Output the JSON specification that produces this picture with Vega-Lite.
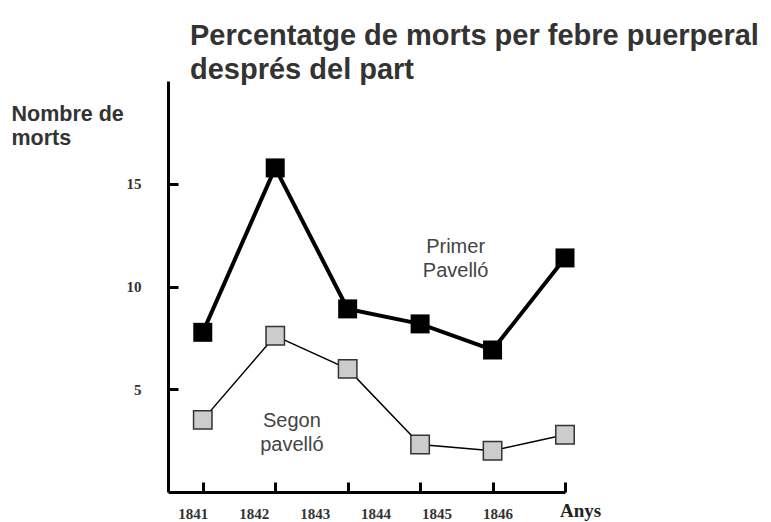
{
  "$schema": "https://vega.github.io/schema/vega-lite/v6.json",
  "autosize": "none",
  "width": 397,
  "height": 411,
  "padding": {"left": 168, "top": 81, "right": 206, "bottom": 30},
  "background": "white",
  "config": {"view": {"stroke": null}},
  "title": {
    "text": ["Percentatge de morts per febre puerperal", "després del part"],
    "anchor": "start",
    "frame": "group",
    "font": "Liberation Sans",
    "fontSize": 29,
    "fontWeight": "bold",
    "color": "#333333",
    "lineHeight": 34,
    "dx": 22,
    "offset": -4
  },
  "datasets": {
    "series": [
      {"serie": "Primer Pavelló", "any": 1841, "morts": 7.77},
      {"serie": "Primer Pavelló", "any": 1842, "morts": 15.77},
      {"serie": "Primer Pavelló", "any": 1843, "morts": 8.91},
      {"serie": "Primer Pavelló", "any": 1844, "morts": 8.18},
      {"serie": "Primer Pavelló", "any": 1845, "morts": 6.91},
      {"serie": "Primer Pavelló", "any": 1846, "morts": 11.39},
      {"serie": "Segon pavelló", "any": 1841, "morts": 3.51},
      {"serie": "Segon pavelló", "any": 1842, "morts": 7.6},
      {"serie": "Segon pavelló", "any": 1843, "morts": 5.99},
      {"serie": "Segon pavelló", "any": 1844, "morts": 2.31},
      {"serie": "Segon pavelló", "any": 1845, "morts": 2.01},
      {"serie": "Segon pavelló", "any": 1846, "morts": 2.79}
    ],
    "notes": [
      {"note": "Primer\nPavelló", "any": 1844.49, "morts": 11.63},
      {"note": "Segon\npavelló", "any": 1842.23, "morts": 3.15}
    ]
  },
  "encoding": {
    "x": {
      "field": "any",
      "type": "quantitative",
      "scale": {"domain": [1840.52, 1846], "nice": false, "zero": false},
      "axis": {
        "values": [1841, 1842, 1843, 1844, 1845, 1846],
        "format": "d",
        "grid": false,
        "domainColor": "black",
        "domainWidth": 3,
        "tickColor": "black",
        "tickWidth": 3,
        "tickSize": -10,
        "labelFont": "Liberation Serif",
        "labelFontWeight": "bold",
        "labelFontSize": 15,
        "labelColor": "#333333",
        "labelBaseline": "top",
        "labelPadding": 24,
        "labelOffset": {"expr": "-10 - 11.5 * (datum.value - 1841)"},
        "labelFlush": false,
        "labelOverlap": false,
        "title": "Anys",
        "titleFont": "Liberation Serif",
        "titleFontWeight": "bold",
        "titleFontSize": 19,
        "titleColor": "#222222",
        "titleAlign": "center",
        "titleBaseline": "alphabetic",
        "titleX": 412,
        "titleY": 24
      }
    },
    "y": {
      "field": "morts",
      "type": "quantitative",
      "scale": {"domain": [0, 20], "nice": false},
      "axis": {
        "values": [5, 10, 15],
        "grid": false,
        "domainColor": "black",
        "domainWidth": 3,
        "tickColor": "black",
        "tickWidth": 3,
        "tickSize": -10,
        "labelFont": "Liberation Serif",
        "labelFontWeight": "bold",
        "labelFontSize": 15,
        "labelColor": "#333333",
        "labelPadding": 37,
        "labelBaseline": "middle",
        "title": ["Nombre de", "morts"],
        "titleFont": "Liberation Sans",
        "titleFontWeight": "bold",
        "titleFontSize": 21.5,
        "titleColor": "#333333",
        "titleAngle": 0,
        "titleAlign": "left",
        "titleBaseline": "alphabetic",
        "titleLineHeight": 24,
        "titleX": -157,
        "titleY": 39
      }
    }
  },
  "layer": [
    {
      "data": {"name": "series"},
      "transform": [{"filter": "datum.serie == 'Primer Pavelló'"}],
      "mark": {"type": "line", "color": "black", "strokeWidth": 4}
    },
    {
      "data": {"name": "series"},
      "transform": [{"filter": "datum.serie == 'Primer Pavelló'"}],
      "mark": {"type": "square", "color": "black", "size": 361, "opacity": 1}
    },
    {
      "data": {"name": "series"},
      "transform": [{"filter": "datum.serie == 'Segon pavelló'"}],
      "mark": {"type": "line", "color": "black", "strokeWidth": 1.5}
    },
    {
      "data": {"name": "series"},
      "transform": [{"filter": "datum.serie == 'Segon pavelló'"}],
      "mark": {"type": "point", "shape": "square", "filled": true, "fill": "#cccccc", "stroke": "#333333", "strokeWidth": 1.5, "size": 340, "opacity": 1}
    },
    {
      "data": {"name": "notes"},
      "mark": {"type": "text", "font": "Liberation Sans", "fontSize": 20, "color": "#444444", "align": "center", "baseline": "alphabetic", "lineBreak": "\n", "lineHeight": 24},
      "encoding": {"text": {"field": "note"}}
    }
  ]
}
